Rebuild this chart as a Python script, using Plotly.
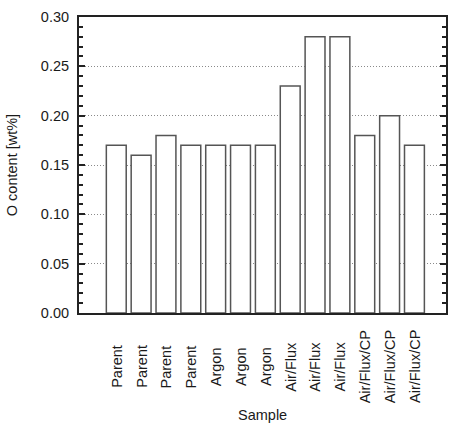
import plotly.graph_objects as go

categories = ["Parent", "Parent", "Parent", "Parent",
              "Argon", "Argon", "Argon",
              "Air/Flux", "Air/Flux", "Air/Flux",
              "Air/Flux/CP", "Air/Flux/CP", "Air/Flux/CP"]
o_content = [0.17, 0.16, 0.18, 0.17, 0.17, 0.17, 0.17,
             0.23, 0.28, 0.28, 0.18, 0.20, 0.17]
y_ticks = [0.00, 0.05, 0.10, 0.15, 0.20, 0.25, 0.30]
y_ticktext = ["0.00", "0.05", "0.10", "0.15", "0.20", "0.25", "0.30"]

positions = list(range(len(categories)))
FONT = "Arial, Liberation Sans, sans-serif"
TXT = "#1a1a1a"
FS = 14.5

fig = go.Figure()
fig.add_trace(go.Bar(
    x=positions, y=o_content, width=0.8,
    marker=dict(color="white", line=dict(color="#555555", width=1.5)),
    showlegend=False,
))

annotations = []
for p, c in zip(positions, categories):
    annotations.append(dict(
        x=p, xref="x", y=-0.181, yref="paper", text=c, textangle=-90,
        showarrow=False, xanchor="center", yanchor="middle",
        font=dict(family=FONT, size=FS, color=TXT),
    ))
annotations.append(dict(
    x=0.5, xref="paper", y=-0.345, yref="paper", text="Sample",
    showarrow=False, xanchor="center", yanchor="middle",
    font=dict(family=FONT, size=FS, color=TXT),
))
annotations.append(dict(
    x=-0.182, xref="paper", y=0.5, yref="paper", text="O content [wt%]",
    textangle=-90, showarrow=False, xanchor="center", yanchor="middle",
    font=dict(family=FONT, size=FS, color=TXT),
))

fig.update_layout(
    width=457, height=428,
    margin=dict(l=79, r=9, t=14, b=115),
    paper_bgcolor="white", plot_bgcolor="white",
    font=dict(family=FONT, size=FS, color=TXT),
    annotations=annotations,
    xaxis=dict(
        range=[-1.5, 13.27], showticklabels=False, ticks="",
        showgrid=False, zeroline=False,
        showline=True, linecolor="#222222", linewidth=2, mirror=True,
    ),
    yaxis=dict(
        range=[0, 0.30], tickvals=y_ticks, ticktext=y_ticktext,
        ticks="inside", ticklen=6, tickwidth=1.5, tickcolor="#222222",
        showline=True, linecolor="#222222", linewidth=2, mirror="ticks",
        showgrid=True, gridcolor="#8a8a8a", gridwidth=1, griddash="1px,2px",
        zeroline=False, ticklabelstandoff=5,
        tickfont=dict(family=FONT, size=FS, color=TXT),
        minor=dict(dtick=0.01, ticks="inside", ticklen=4, tickwidth=1.5,
                   tickcolor="#222222", showgrid=False),
    ),
)

fig.write_html("out.html")
